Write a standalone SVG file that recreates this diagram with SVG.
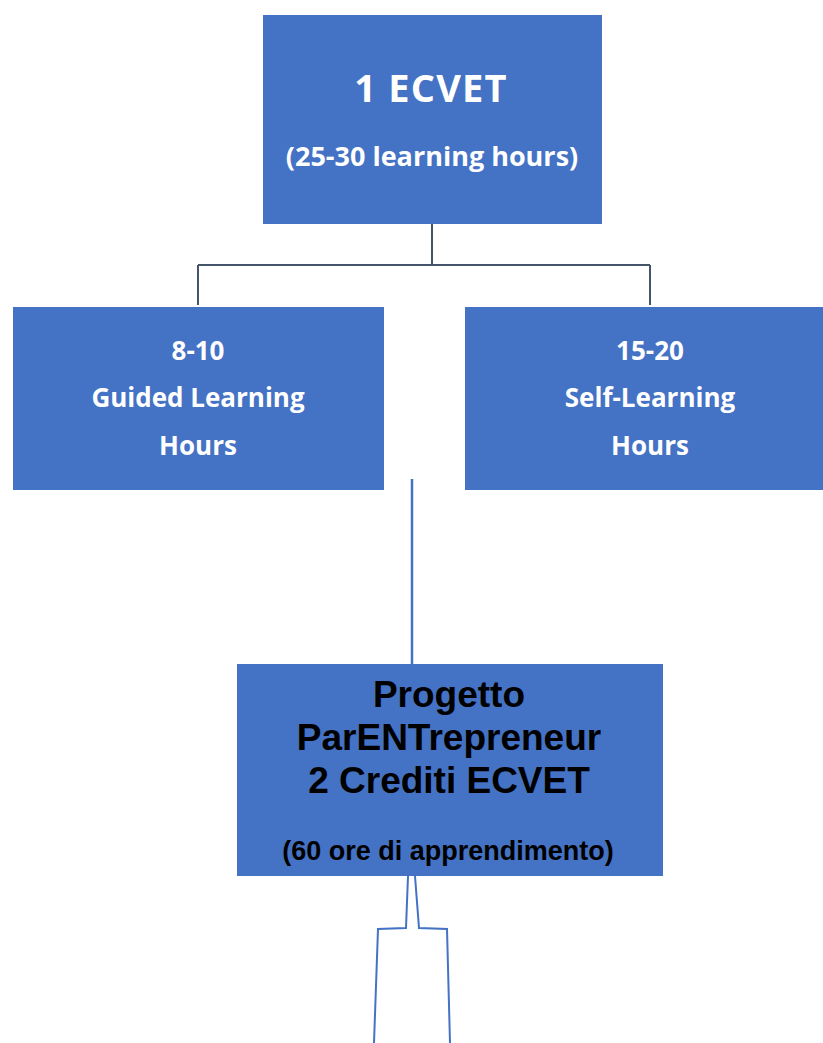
<svg xmlns="http://www.w3.org/2000/svg" width="823" height="1043" viewBox="0 0 823 1043">
  <style>
    .box { fill: #4472C4; }
    .wt { font-family: "Open Sans", Lato, sans-serif; font-weight: bold; fill: #FFFFFF; text-anchor: middle; }
    .bt { font-family: "Liberation Sans", Arial, sans-serif; font-weight: bold; fill: #000000; text-anchor: middle; }
    .tree { fill: none; stroke: #44546A; stroke-width: 2; }
    .blue { fill: none; stroke: #4472C4; stroke-width: 2.5; }
    .thin { fill: none; stroke: #4472C4; stroke-width: 2; }
  </style>
  <rect width="823" height="1043" fill="#FFFFFF"/>
  <g id="connectors">
    <path class="tree" d="M432,224 V265 M198,265 H650 M198,265 V305 M650,265 V305"/>
    <path class="blue" d="M412,479 V664"/>
    <path class="thin" d="M408,876 L406,928 L378,929 L374,1043"/>
    <path class="thin" d="M415,876 L419,928 L447,929 L450,1043"/>
  </g>
  <g id="ecvet">
    <rect class="box" x="263" y="15" width="339" height="209"/>
    <text class="wt" x="431" y="102" font-size="38" letter-spacing="1.2">1 ECVET</text>
    <text class="wt" x="432" y="166" font-size="27">(25-30 learning hours)</text>
  </g>
  <g id="guided">
    <rect class="box" x="13" y="307" width="371" height="183"/>
    <text class="wt" x="198" y="360" font-size="26">8-10</text>
    <text class="wt" x="198" y="407" font-size="26">Guided Learning</text>
    <text class="wt" x="198" y="455" font-size="26">Hours</text>
  </g>
  <g id="self">
    <rect class="box" x="465" y="307" width="358" height="183"/>
    <text class="wt" x="650" y="360" font-size="26">15-20</text>
    <text class="wt" x="650" y="407" font-size="26">Self-Learning</text>
    <text class="wt" x="650" y="455" font-size="26">Hours</text>
  </g>
  <g id="progetto">
    <rect class="box" x="237" y="664" width="426" height="212"/>
    <text class="bt" x="449" y="707" font-size="37">Progetto</text>
    <text class="bt" x="449" y="750" font-size="37">ParENTrepreneur</text>
    <text class="bt" x="449" y="793" font-size="37">2 Crediti ECVET</text>
    <text class="bt" x="448" y="860" font-size="27">(60 ore di apprendimento)</text>
  </g>
</svg>
